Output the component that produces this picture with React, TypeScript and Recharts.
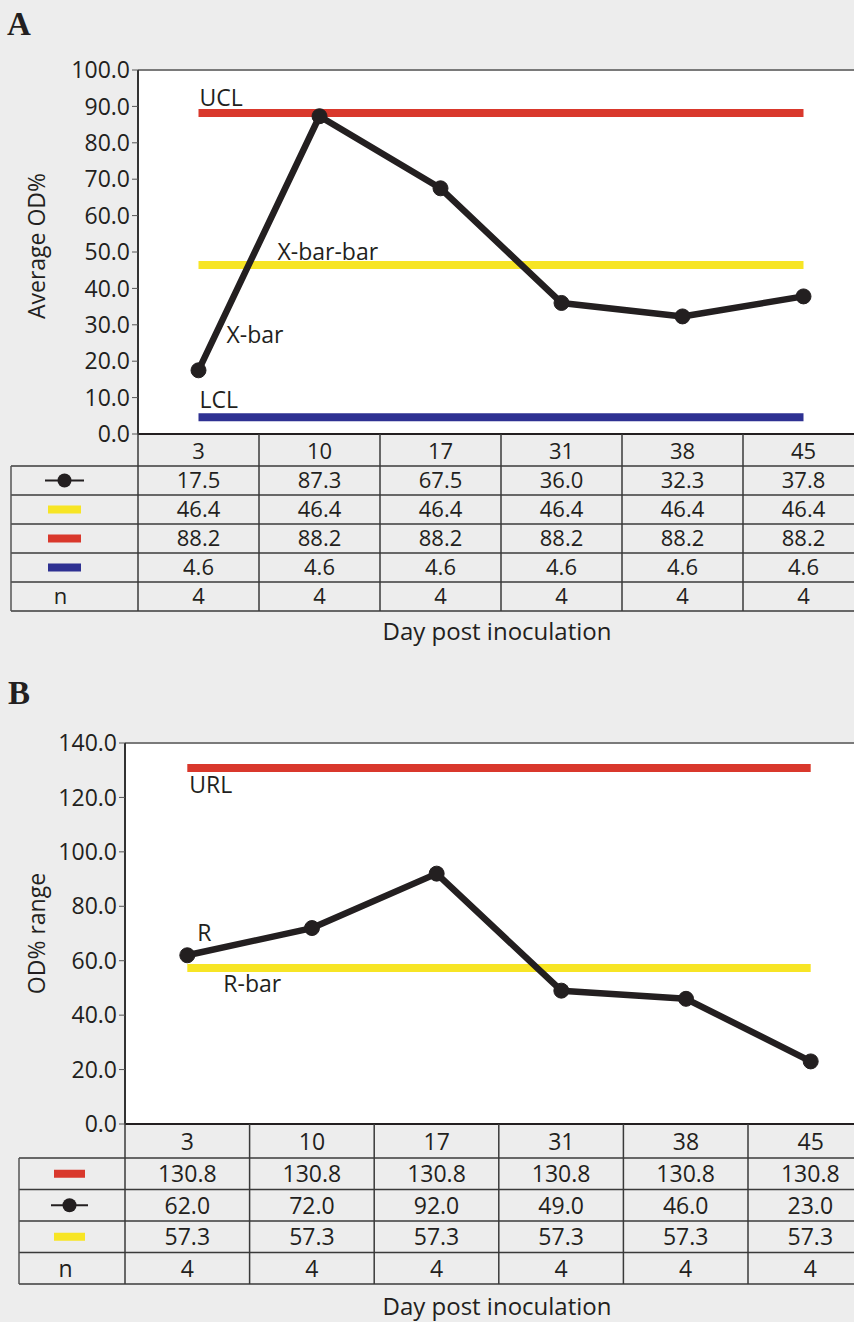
import React from 'react';
import { ComposedChart, Line, XAxis, YAxis, CartesianGrid, ReferenceLine, LabelList } from 'recharts';

const FONT = '"Open Sans", "Noto Sans", sans-serif';
const INK = '#231f20';
const RED = '#d9382c';
const YELLOW = '#f7e525';
const BLUE = '#2e3192';
const FS = 23;

const days = ['3', '10', '17', '31', '38', '45'];
// Panel A
const xBar = [17.5, 87.3, 67.5, 36.0, 32.3, 37.8];
const xBarBar = [46.4, 46.4, 46.4, 46.4, 46.4, 46.4];
const ucl = [88.2, 88.2, 88.2, 88.2, 88.2, 88.2];
const lcl = [4.6, 4.6, 4.6, 4.6, 4.6, 4.6];
const nA = [4, 4, 4, 4, 4, 4];
const ticksA = [0, 10, 20, 30, 40, 50, 60, 70, 80, 90, 100];
// Panel B
const url = [130.8, 130.8, 130.8, 130.8, 130.8, 130.8];
const rVals = [62.0, 72.0, 92.0, 49.0, 46.0, 23.0];
const rBar = [57.3, 57.3, 57.3, 57.3, 57.3, 57.3];
const nB = [4, 4, 4, 4, 4, 4];
const ticksB = [0, 20, 40, 60, 80, 100, 120, 140];

const dataA = days.map((d, i) => ({ day: d, xbar: xBar[i], xbarbar: xBarBar[i], ucl: ucl[i], lcl: lcl[i] }));
const dataB = days.map((d, i) => ({ day: d, url: url[i], r: rVals[i], rbar: rBar[i] }));

const fmt = (v: number) => v.toFixed(1);

const firstLabel = (text: string, dx: number, dy: number) => (props: any) => {
  if (props.index !== 0) return null;
  const vb = props.viewBox || {};
  const x = vb.x ?? props.x;
  const y = vb.y ?? props.y;
  return (
    <text x={x + dx} y={y + dy} fontSize={FS} fill={INK} fontFamily={FONT} textAnchor="start">
      {text}
    </text>
  );
};

const dotStyle = { r: 7.5, fill: INK, stroke: INK, strokeWidth: 1 };

type TableRow = { kind: 'dot' | 'bar' | 'n'; color?: string; values: (string | number)[] };

function TableSvg(props: {
  left: number; colStart: number; colW: number; headerTop: number; rowTop: number; rowH: number;
  rows: TableRow[]; symX1: number; symX2: number; fs: number;
}) {
  const { left, colStart, colW, headerTop, rowTop, rowH, rows, symX1, symX2, fs } = props;
  const right = colStart + colW * days.length;
  const bottom = rowTop + rowH * rows.length;
  const els: any[] = [];
  for (let i = 0; i <= rows.length; i++) {
    const y = rowTop + i * rowH;
    els.push(<line key={'h' + i} x1={left} x2={right} y1={y} y2={y} stroke="#3a3a3a" strokeWidth={1.5} />);
  }
  els.push(<line key="vl" x1={left} x2={left} y1={rowTop} y2={bottom} stroke="#555" strokeWidth={1.5} />);
  for (let j = 0; j < days.length; j++) {
    const x = colStart + j * colW;
    els.push(<line key={'v' + j} x1={x} x2={x} y1={headerTop} y2={bottom} stroke="#3a3a3a" strokeWidth={1.5} />);
  }
  const symC = (symX1 + symX2) / 2;
  const base = fs * 0.36;
  rows.forEach((row, i) => {
    const cy = rowTop + i * rowH + rowH / 2;
    if (row.kind === 'dot') {
      els.push(<line key={'sl' + i} x1={symX1} x2={symX2} y1={cy} y2={cy} stroke={INK} strokeWidth={2} />);
      els.push(<circle key={'sc' + i} cx={symC} cy={cy} r={7} fill={INK} />);
    } else if (row.kind === 'bar') {
      els.push(<rect key={'sr' + i} x={symX1 + 3} y={cy - 4} width={symX2 - symX1 - 6} height={8} fill={row.color} />);
    } else {
      els.push(<text key={'sn' + i} x={symC - 4} y={cy + base} fontSize={fs} fill={INK} fontFamily={FONT} textAnchor="middle">n</text>);
    }
    row.values.forEach((v, j) => {
      els.push(
        <text key={'t' + i + '_' + j} x={colStart + (j + 0.5) * colW} y={cy + base} fontSize={fs} fill={INK} fontFamily={FONT} textAnchor="middle">
          {typeof v === 'number' ? (row.kind === 'n' ? String(v) : fmt(v)) : v}
        </text>
      );
    });
  });
  return <g>{els}</g>;
}

export default function App() {
  const colWA = 121;
  const colWB = 124.6;
  return (
    <div style={{ position: 'absolute', left: 0, top: 0, width: 854, height: 1322, overflow: 'hidden', background: '#ededed', fontFamily: FONT }}>
      {/* Panel A */}
      <div style={{ position: 'absolute', left: 0, top: 0 }}>
        <ComposedChart width={864} height={466} data={dataA} margin={{ top: 70, right: 0, bottom: 0, left: 78 }}>
          <CartesianGrid horizontal={false} vertical={false} fill="#ffffff" fillOpacity={1} stroke="none" />
          <XAxis dataKey="day" height={32} padding={{ left: colWA / 2, right: colWA / 2 }} axisLine={{ stroke: INK, strokeWidth: 2 }} tickLine={false} tickSize={0} tickMargin={9} tick={{ fontSize: 22, fill: INK, fontFamily: FONT }} interval={0} />
          <YAxis width={60} domain={[0, 100]} ticks={ticksA} tickFormatter={fmt} axisLine={{ stroke: '#333', strokeWidth: 2 }} tickLine={{ stroke: '#555', strokeWidth: 1 }} tickSize={6} tickMargin={2} tick={{ fontSize: FS, fill: INK, fontFamily: FONT }} interval={0}
            label={(p: any) => {
              const vb = p.viewBox || {};
              const cx = 36, cy = vb.y + vb.height / 2 - 6;
              return <text x={cx} y={cy} transform={`rotate(-90 ${cx} ${cy})`} textAnchor="middle" dominantBaseline="central" fontSize={FS} fill={INK} fontFamily={FONT}>Average OD%</text>;
            }} />
          <ReferenceLine y={100} stroke="#7a7a7a" strokeWidth={2} />
          <Line dataKey="ucl" stroke={RED} strokeWidth={8} dot={false} isAnimationActive={false} strokeLinecap="butt">
            <LabelList dataKey="ucl" content={firstLabel('UCL', 1, -7)} />
          </Line>
          <Line dataKey="xbarbar" stroke={YELLOW} strokeWidth={8} dot={false} isAnimationActive={false} strokeLinecap="butt">
            <LabelList dataKey="xbarbar" content={firstLabel('X-bar-bar', 79, -5)} />
          </Line>
          <Line dataKey="lcl" stroke={BLUE} strokeWidth={8} dot={false} isAnimationActive={false} strokeLinecap="butt">
            <LabelList dataKey="lcl" content={firstLabel('LCL', 1, -9)} />
          </Line>
          <Line dataKey="xbar" stroke={INK} strokeWidth={6.5} dot={dotStyle} isAnimationActive={false} strokeLinejoin="round">
            <LabelList dataKey="xbar" content={firstLabel('X-bar', 28, -27)} />
          </Line>
        </ComposedChart>
      </div>
      {/* Panel B */}
      <div style={{ position: 'absolute', left: 0, top: 660 }}>
        <ComposedChart width={873} height={498} data={dataB} margin={{ top: 83, right: 0, bottom: 0, left: 65 }}>
          <CartesianGrid horizontal={false} vertical={false} fill="#ffffff" fillOpacity={1} stroke="none" />
          <XAxis dataKey="day" height={34} padding={{ left: colWB / 2, right: colWB / 2 }} axisLine={{ stroke: INK, strokeWidth: 2 }} tickLine={false} tickSize={0} tickMargin={10} tick={{ fontSize: FS, fill: INK, fontFamily: FONT }} interval={0} />
          <YAxis width={60} domain={[0, 140]} ticks={ticksB} tickFormatter={fmt} axisLine={{ stroke: '#333', strokeWidth: 2 }} tickLine={{ stroke: '#555', strokeWidth: 1 }} tickSize={6} tickMargin={2} tick={{ fontSize: FS, fill: INK, fontFamily: FONT }} interval={0}
            label={(p: any) => {
              const vb = p.viewBox || {};
              const cx = 36, cy = vb.y + vb.height / 2 - 0;
              return <text x={cx} y={cy} transform={`rotate(-90 ${cx} ${cy})`} textAnchor="middle" dominantBaseline="central" fontSize={FS} fill={INK} fontFamily={FONT}>OD% range</text>;
            }} />
          <ReferenceLine y={140} stroke="#7a7a7a" strokeWidth={2} />
          <Line dataKey="url" stroke={RED} strokeWidth={8} dot={false} isAnimationActive={false} strokeLinecap="butt">
            <LabelList dataKey="url" content={firstLabel('URL', 2, 25)} />
          </Line>
          <Line dataKey="rbar" stroke={YELLOW} strokeWidth={8} dot={false} isAnimationActive={false} strokeLinecap="butt">
            <LabelList dataKey="rbar" content={firstLabel('R-bar', 36, 24)} />
          </Line>
          <Line dataKey="r" stroke={INK} strokeWidth={6.5} dot={dotStyle} isAnimationActive={false} strokeLinejoin="round">
            <LabelList dataKey="r" content={firstLabel('R', 10, -14)} />
          </Line>
        </ComposedChart>
      </div>
      {/* Tables and titles */}
      <svg width={854} height={1322} style={{ position: 'absolute', left: 0, top: 0, pointerEvents: 'none' }}>
        <text x={7} y={35} fontSize={33} fontWeight="bold" fontFamily='"Liberation Serif", "DejaVu Serif", serif' fill={INK}>A</text>
        <text x={8} y={704} fontSize={33} fontWeight="bold" fontFamily='"Liberation Serif", "DejaVu Serif", serif' fill={INK}>B</text>
        <TableSvg left={11} colStart={138} colW={colWA} headerTop={434} rowTop={466} rowH={29} symX1={45} symX2={84} fs={22}
          rows={[
            { kind: 'dot', values: xBar },
            { kind: 'bar', color: YELLOW, values: xBarBar },
            { kind: 'bar', color: RED, values: ucl },
            { kind: 'bar', color: BLUE, values: lcl },
            { kind: 'n', values: nA },
          ]} />
        <text x={497} y={640} fontSize={24} fill={INK} fontFamily={FONT} textAnchor="middle">Day post inoculation</text>
        <TableSvg left={19} colStart={125} colW={colWB} headerTop={1124} rowTop={1158} rowH={31.5} symX1={51} symX2={88} fs={FS}
          rows={[
            { kind: 'bar', color: RED, values: url },
            { kind: 'dot', values: rVals },
            { kind: 'bar', color: YELLOW, values: rBar },
            { kind: 'n', values: nB },
          ]} />
        <text x={497} y={1315} fontSize={24} fill={INK} fontFamily={FONT} textAnchor="middle">Day post inoculation</text>
      </svg>
    </div>
  );
}
